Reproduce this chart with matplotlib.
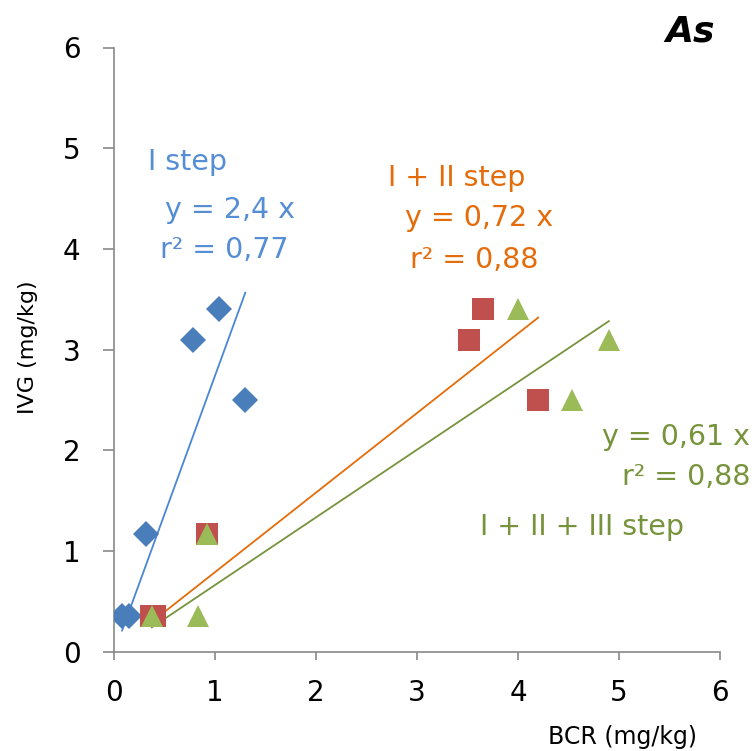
import matplotlib
matplotlib.use('Agg')
import matplotlib.pyplot as plt
import numpy as np

# IVG values shared by the three extraction steps
ivg = [0.35, 0.35, 1.17, 3.10, 3.40, 2.50]

# BCR (mg/kg) for each cumulative step
bcr_i = [0.08, 0.15, 0.32, 0.78, 1.04, 1.30]
bcr_i_ii = [0.37, 0.41, 0.92, 3.51, 3.65, 4.20]
bcr_i_ii_iii = [0.38, 0.83, 0.92, 4.90, 4.00, 4.53]

# trendlines as drawn: (x start, x end, slope, intercept)
trend_i = (0.08, 1.30, 2.75, -0.01)
trend_i_ii = (0.375, 4.20, 0.79, 0.0)
trend_i_ii_iii = (0.375, 4.90, 0.672, -0.01)

ticks = [0, 1, 2, 3, 4, 5, 6]

BLUE_PT, RED_PT, GREEN_PT = '#4A7EBB', '#C0504D', '#9BBB59'
BLUE_LN, ORANGE_LN, GREEN_LN = '#4A86D8', '#E46C0A', '#77933C'
BLUE_TX, ORANGE_TX, GREEN_TX = '#558ED5', '#E46C0A', '#77933C'

W, H = 755, 751
fig = plt.figure(figsize=(W / 100, H / 100), dpi=100)
ax = fig.add_axes([114 / W, 1 - 651.7 / H, (720 - 114) / W, (651.7 - 47.5) / H])


def trend(ax, spec, color):
    x0, x1, m, b = spec
    xs = np.array([x0, x1])
    ax.plot(xs, m * xs + b, color=color, linewidth=1.3, zorder=2)


trend(ax, trend_i, BLUE_LN)
trend(ax, trend_i_ii, ORANGE_LN)
trend(ax, trend_i_ii_iii, GREEN_LN)

ax.plot(bcr_i, ivg, linestyle='none', marker='D', markersize=13.5,
        color=BLUE_PT, markeredgewidth=0, zorder=3)
ax.plot(bcr_i_ii, ivg, linestyle='none', marker='s', markersize=15.5,
        color=RED_PT, markeredgewidth=0, zorder=3)
ax.plot(bcr_i_ii_iii, ivg, linestyle='none', marker='^', markersize=15.5,
        color=GREEN_PT, markeredgewidth=0, zorder=4)

ax.set_xlim(0, 6)
ax.set_ylim(0, 6)
ax.set_xticks(ticks)
ax.set_yticks(ticks)
ax.spines[['top', 'right']].set_visible(False)
for s in ['left', 'bottom']:
    ax.spines[s].set_color('#898989')
    ax.spines[s].set_linewidth(1.2)
ax.tick_params(axis='y', direction='out', length=8, width=1.2, color='#898989',
               labelsize=20, pad=16)
ax.tick_params(axis='x', direction='out', length=6, width=1.2, color='#898989',
               labelsize=20, pad=14)

fig.text(28 / W, 1 - 347 / H, 'IVG (mg/kg)', rotation=90, ha='center',
         va='center', fontsize=16)
fig.text(622 / W, 1 - 737 / H, 'BCR (mg/kg)', ha='center', va='center',
         fontsize=17)

fig.text(690 / W, 1 - 32 / H, 'As', ha='center', va='center', fontsize=26,
         fontstyle='italic', fontweight='bold')


def label(x, y, s, color, ha='left'):
    fig.text(x / W, 1 - y / H, s, ha=ha, va='center', fontsize=20.5,
             color=color)


label(148, 162, 'I step', BLUE_TX)
label(165, 210, 'y = 2,4 x', BLUE_TX)
label(160, 250, 'r\u00b2 = 0,77', BLUE_TX)

label(388, 178, 'I + II step', ORANGE_TX)
label(405, 218, 'y = 0,72 x', ORANGE_TX)
label(410, 260, 'r\u00b2 = 0,88', ORANGE_TX)

label(750, 437, 'y = 0,61 x', GREEN_TX, ha='right')
label(750, 477, 'r\u00b2 = 0,88', GREEN_TX, ha='right')
label(480, 527, 'I + II + III step', GREEN_TX)

fig.savefig('out.png', dpi=100, facecolor='white')
